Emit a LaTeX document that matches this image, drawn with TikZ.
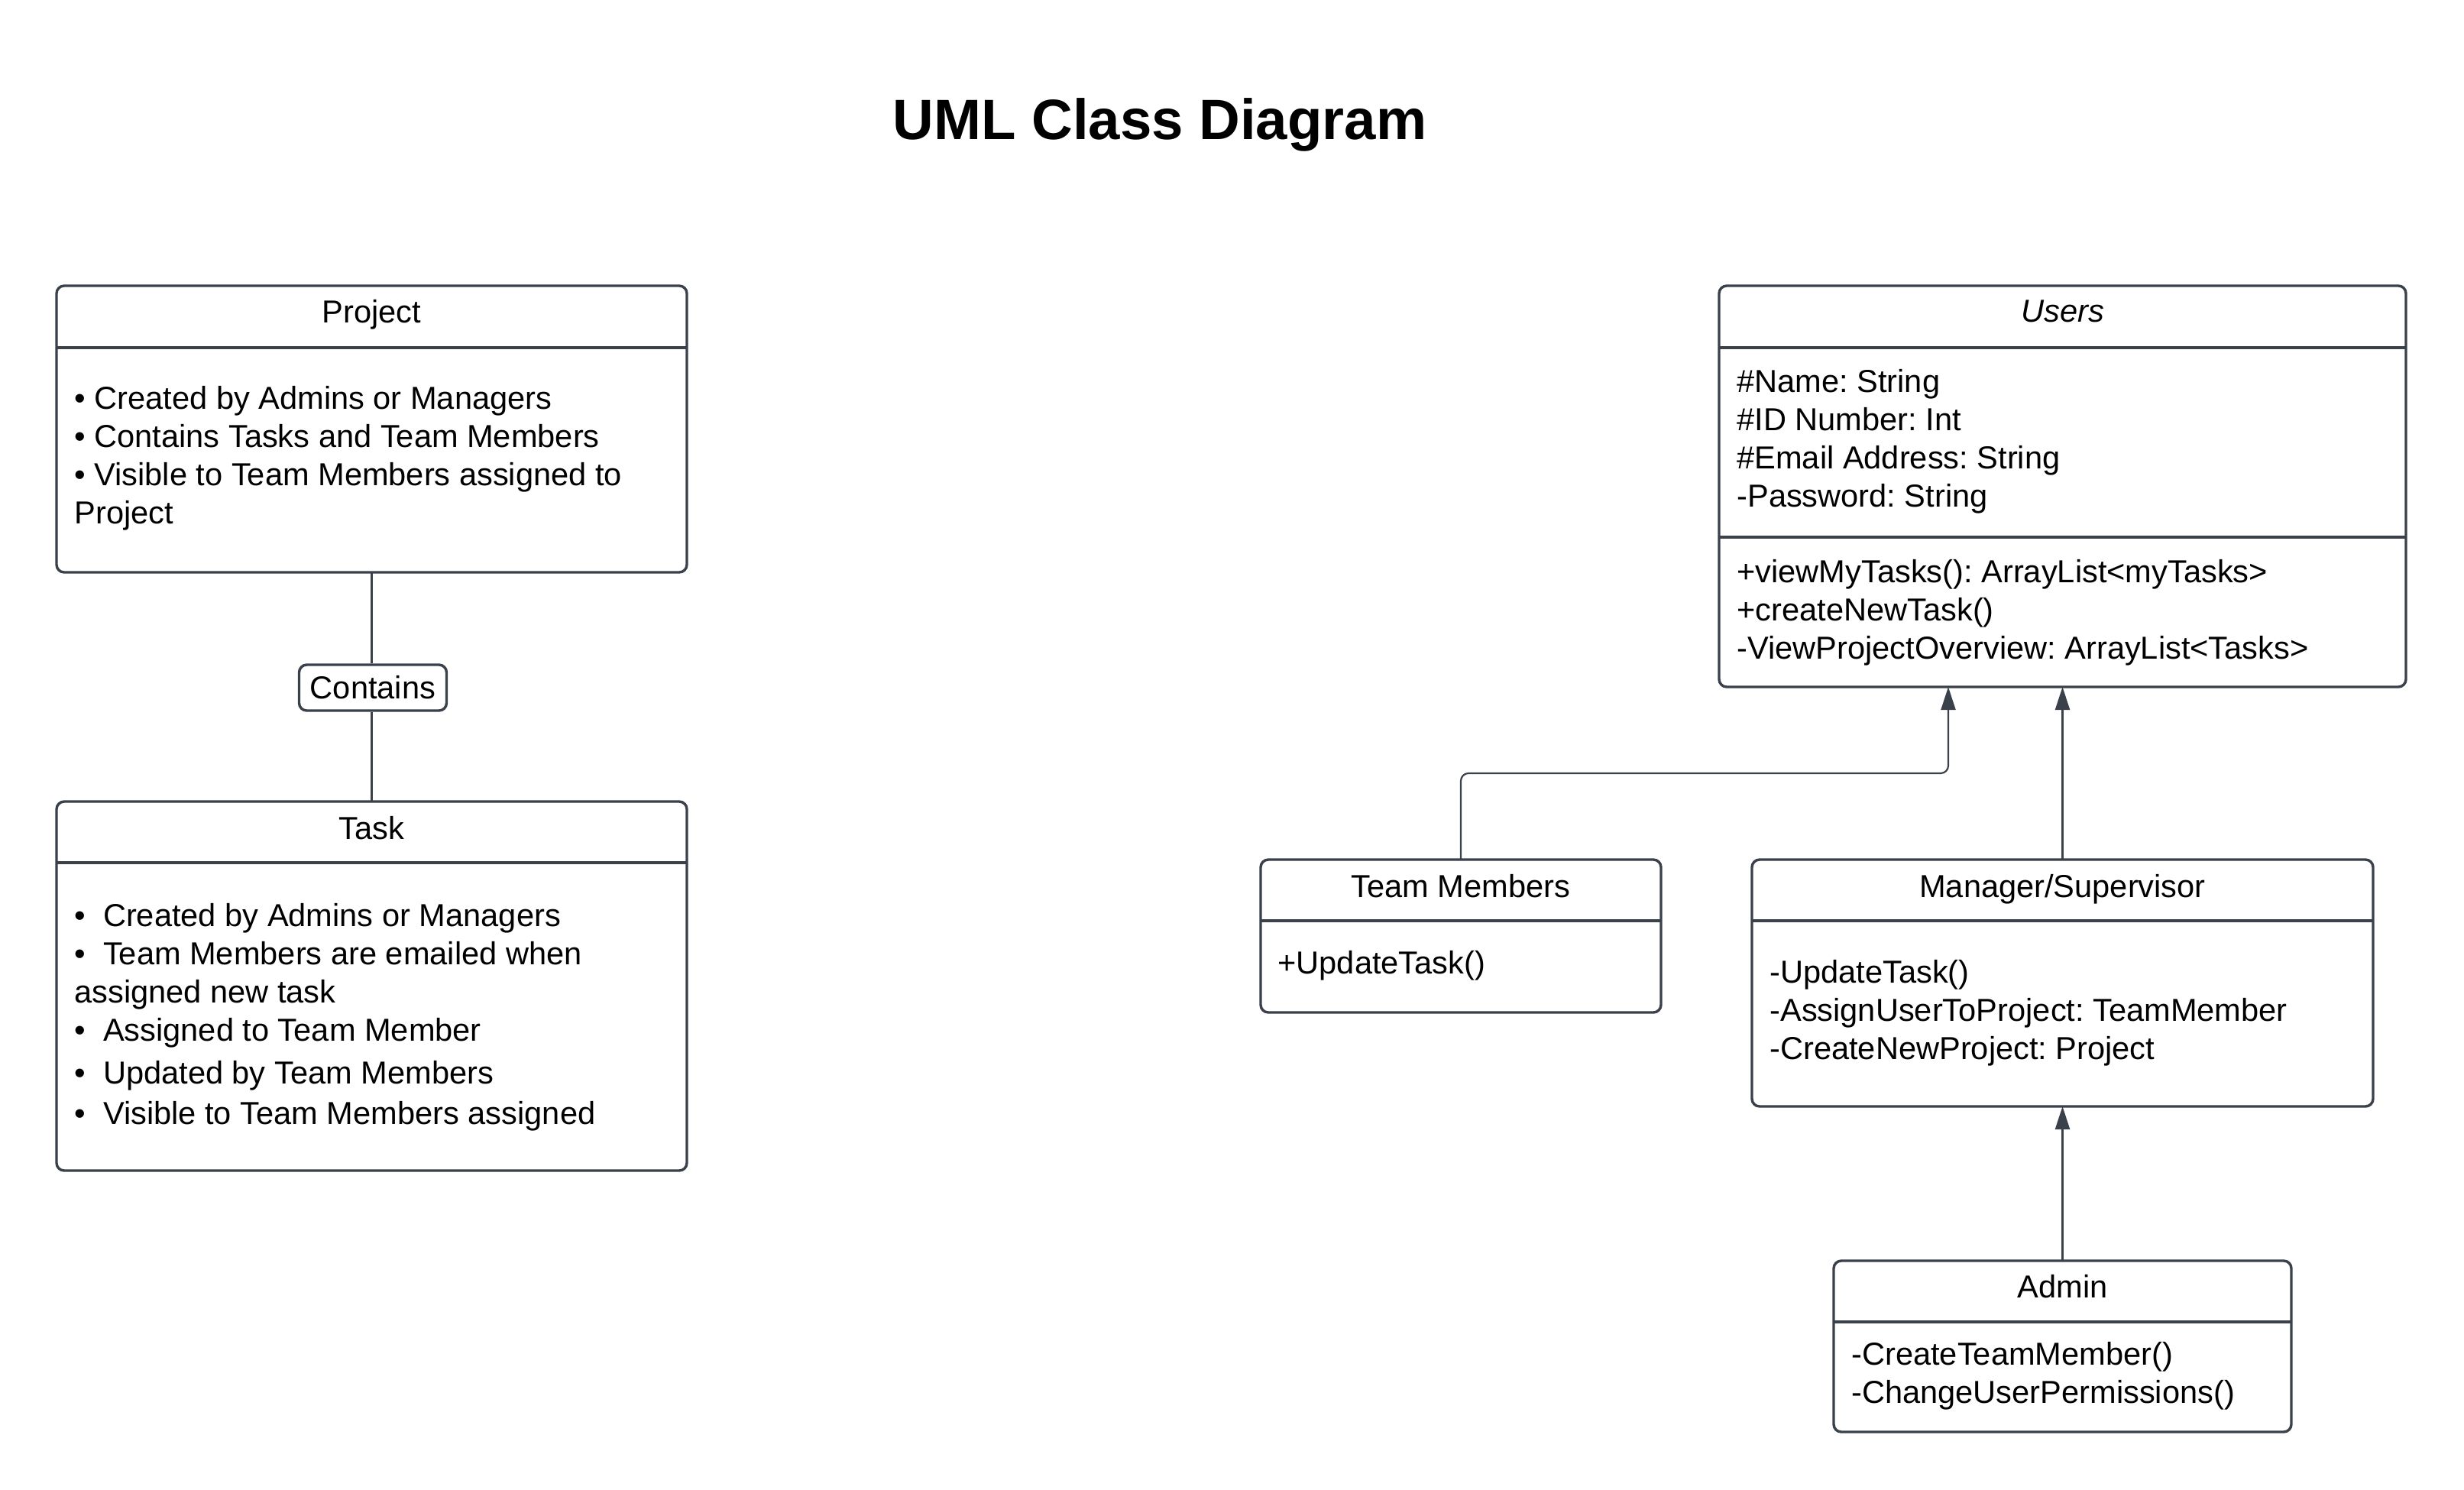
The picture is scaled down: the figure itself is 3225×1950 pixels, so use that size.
\documentclass[tikz,border=0pt]{standalone}
\usepackage{fontspec}
\setmainfont{Liberation Sans}
\usetikzlibrary{arrows.meta}
\definecolor{linec}{HTML}{3A414A}
\frenchspacing
\begin{document}
\begin{tikzpicture}[x=0.5pt,y=-0.5pt,
  every node/.style={text=black},
  body/.style={font=\fontsize{20.8}{25}\selectfont},
  classbox/.style={draw=linec, line width=1.7pt, rounded corners=5pt, fill=white, inner sep=0pt, outer sep=0pt},
  divider/.style={draw=linec, line width=1.7pt},
  conn/.style={draw=linec, line width=1.1pt},
  inherit/.style={conn, -{Triangle[length=15pt,width=9.5pt]}},
  ctext/.style={body, anchor=north west, align=left, inner sep=0pt},
  ttext/.style={body, anchor=base, inner sep=0pt}
]
\useasboundingbox[fill=white] (0,0) rectangle (3225,1950);

% heading
\node[font=\fontsize{37.2}{44}\selectfont\bfseries, anchor=base, inner sep=0pt] (title) at (1518,182) {UML Class Diagram};

% Project class
\node[classbox, minimum width=412.5pt, minimum height=187.5pt] (project) at (486.5,561.5) {};
\draw[divider] ([yshift=-40.5pt]project.north west) -- ([yshift=-40.5pt]project.north east);
\node[ttext] (projectname) at (486.5,422) {Project};
\node[ctext] (projectbody) at (97,505) {• Created by Admins or Managers\\• Contains Tasks and Team Members\\• Visible to Team Members assigned to\\Project};

% Task class
\node[classbox, minimum width=412.5pt, minimum height=241.5pt] (task) at (486.5,1290.5) {};
\draw[divider] ([yshift=-40pt]task.north west) -- ([yshift=-40pt]task.north east);
\node[ttext] (taskname) at (486.5,1098) {Task};
\node[ctext] (taskbody) at (97,1182) {•\ \ Created by Admins or Managers\\•\ \ Team Members are emailed when\\assigned new task\\•\ \ Assigned to Team Member\\[3pt]•\ \ Updated by Team Members\\[1.5pt]•\ \ Visible to Team Members assigned};

% association label
\node[draw=linec, line width=1.7pt, rounded corners=5pt, fill=white, body, minimum width=96.5pt, minimum height=30pt, inner sep=0pt] (contains) at (488,900) {Contains};
\draw[conn] (project.south) -- (project.south |- contains.north);
\draw[conn] (project.south |- contains.south) -- (task.north);

% Users class
\node[classbox, minimum width=449.5pt, minimum height=262.5pt] (users) at (2699.5,636.5) {};
\draw[divider] ([yshift=-40.5pt]users.north west) -- ([yshift=-40.5pt]users.north east);
\draw[divider] ([yshift=-164.5pt]users.north west) -- ([yshift=-164.5pt]users.north east);
\node[ttext, font=\fontsize{20.8}{25}\selectfont\itshape] (usersname) at (2699.5,421) {Users};
\node[ctext] (usersattr) at (2273,483) {\#Name: String\\\#ID Number: Int\\\#Email Address: String\\-Password: String};
\node[ctext] (usersops) at (2273,732) {+viewMyTasks(): ArrayList<myTasks>\\+createNewTask()\\-ViewProjectOverview: ArrayList<Tasks>};

% Team Members class
\node[classbox, minimum width=262pt, minimum height=100pt] (team) at (1912,1225) {};
\draw[divider] ([yshift=-40pt]team.north west) -- ([yshift=-40pt]team.north east);
\node[ttext] (teamname) at (1912,1174) {Team Members};
\node[ctext] (teamops) at (1672,1244) {+UpdateTask()};

% Manager/Supervisor class
\node[classbox, minimum width=406.5pt, minimum height=161.5pt] (manager) at (2699.5,1286.5) {};
\draw[divider] ([yshift=-40pt]manager.north west) -- ([yshift=-40pt]manager.north east);
\node[ttext] (managername) at (2699.5,1174) {Manager/Supervisor};
\node[ctext] (managerops) at (2316,1256) {-UpdateTask()\\-AssignUserToProject: TeamMember\\-CreateNewProject: Project};

% Admin class
\node[classbox, minimum width=299.5pt, minimum height=112pt] (admin) at (2699.5,1762) {};
\draw[divider] ([yshift=-40pt]admin.north west) -- ([yshift=-40pt]admin.north east);
\node[ttext] (adminname) at (2699.5,1698) {Admin};
\node[ctext] (adminops) at (2423,1756) {-CreateTeamMember()\\-ChangeUserPermissions()};

% generalisation arrows
\coordinate (teambend) at (2550,1012);
\draw[inherit, rounded corners=5pt] (team.north) |- (teambend) -- (teambend |- users.south);
\draw[inherit] (manager.north) -- (users.south);
\draw[inherit, line width=1.2pt] (admin.north) -- (manager.south);
\end{tikzpicture}
\end{document}
